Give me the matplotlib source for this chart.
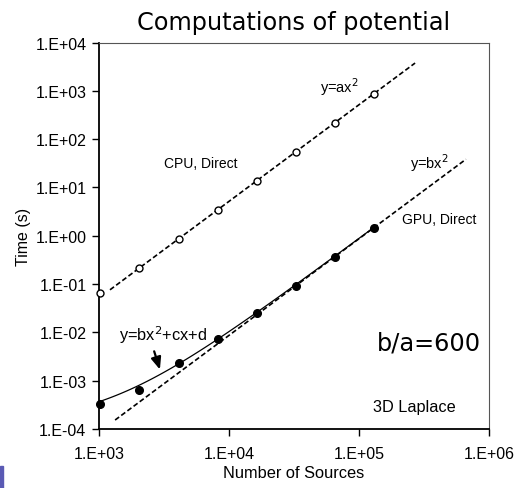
import numpy as np
import matplotlib
matplotlib.use('Agg')
import matplotlib.pyplot as plt
from matplotlib.patches import Rectangle

# number of sources
sources = [1024, 2048, 4096, 8192, 16384, 32768, 65536, 131072]
# timings (s)
cpu_time = [0.064, 0.21, 0.87, 3.4, 13.7, 53, 212, 843]
gpu_time = [3.3e-4, 6.5e-4, 2.29e-3, 7.3e-3, 0.0251, 0.0924, 0.357, 1.42]

# fit coefficients
a_coef = 5.15e-8
b_coef = 8.67e-11
c_coef = 1.6e-7
d_coef = 1.2e-4

x_ticks = [1e3, 1e4, 1e5, 1e6]
x_tick_labels = ['1.E+03', '1.E+04', '1.E+05', '1.E+06']
y_ticks = [1e-4, 1e-3, 1e-2, 1e-1, 1e0, 1e1, 1e2, 1e3, 1e4]
y_tick_labels = ['1.E-04', '1.E-03', '1.E-02', '1.E-01', '1.E+00',
                 '1.E+01', '1.E+02', '1.E+03', '1.E+04']

plt.rcParams['font.family'] = ['Liberation Sans', 'DejaVu Sans']

fig = plt.figure(figsize=(5.17, 4.89), dpi=100)
ax = fig.add_axes([99 / 517, 1 - 430 / 489, 390 / 517, 386.5 / 489])

# fitted lines
xa = np.logspace(np.log10(1215), np.log10(270000), 50)
ax.plot(xa, a_coef * xa ** 2, color='black', ls=(0, (3, 1.6)), lw=1.2)
xb = np.logspace(np.log10(1330), np.log10(665000), 50)
ax.plot(xb, b_coef * xb ** 2, color='black', ls=(0, (3, 1.6)), lw=1.2)
xc = np.logspace(np.log10(1000), np.log10(131072), 80)
ax.plot(xc, b_coef * xc ** 2 + c_coef * xc + d_coef, color='black', lw=0.9)

# measured points
ax.plot(sources, cpu_time, 'o', mfc='white', mec='black', ms=5, mew=1.0,
        clip_on=False, zorder=5)
ax.plot(sources, gpu_time, 'o', mfc='black', mec='black', ms=5.5,
        clip_on=False, zorder=5)

ax.set_xscale('log')
ax.set_yscale('log')
ax.set_xlim(1e3, 1e6)
ax.set_ylim(1e-4, 1e4)
ax.set_xticks(x_ticks)
ax.set_xticklabels(x_tick_labels)
ax.set_yticks(y_ticks)
ax.set_yticklabels(y_tick_labels)
ax.minorticks_off()
ax.tick_params(direction='out', length=5, width=1, labelsize=11.5, pad=4,
               colors='black')
ax.tick_params(axis='x', pad=7)
for s in ['top', 'right']:
    ax.spines[s].set_color('#555555')
for s in ['left', 'bottom']:
    ax.spines[s].set_linewidth(1.3)

ax.set_xlabel('Number of Sources', fontsize=11.8, labelpad=3)
ax.set_ylabel('Time (s)', fontsize=11.5, labelpad=3)
ax.set_title('Computations of potential', fontsize=17.3, family='DejaVu Sans',
             pad=10)

# annotations
ax.text(3162, 31.9, 'CPU, Direct', fontsize=10, va='center')
ax.text(2.14e5, 2.2, 'GPU, Direct', fontsize=10, va='center')
ax.text(50000, 1250, 'y=ax$^2$', fontsize=10.5, va='center')
ax.text(245000, 34, 'y=bx$^2$', fontsize=10.5, va='center')
ax.text(1420, 0.0092, 'y=bx$^2$+cx+d', fontsize=11.8, va='center')
ax.annotate('', xy=(2985, 1.5e-3), xytext=(2618, 4.6e-3),
            arrowprops=dict(arrowstyle='-|>,head_length=0.6,head_width=0.25',
                            color='black', lw=1.6, mutation_scale=12))
ax.text(1.375e5, 6.3e-3, 'b/a=600', fontsize=17.3, va='center',
        family='DejaVu Sans')
ax.text(1.28e5, 2.86e-4, '3D Laplace', fontsize=11.7, va='center')

fig.patches.append(Rectangle((0, 0), 3 / 517, 22 / 489, transform=fig.transFigure,
                             color='#5a5ab4', zorder=10))

fig.savefig('out.png', dpi=100)
